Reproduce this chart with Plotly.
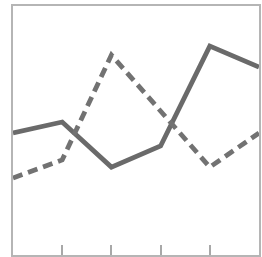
import plotly.graph_objects as go

x_vals = [0, 1, 2, 3, 4, 5]
solid_vals = [4.9, 5.34, 3.53, 4.38, 8.39, 7.55]
dashed_vals = [3.09, 3.82, 8.03, 5.78, 3.53, 4.9]
tick_positions = [1, 2, 3, 4]

fig = go.Figure()
fig.add_trace(go.Scatter(x=x_vals, y=solid_vals, mode="lines",
                         line=dict(color="#6a6a6a", width=4.8), showlegend=False))
fig.add_trace(go.Scatter(x=x_vals, y=dashed_vals, mode="lines",
                         line=dict(color="#727272", width=4.8, dash="10px,6px"), showlegend=False))

fig.update_layout(
    width=262, height=257,
    margin=dict(l=13, r=1, t=6, b=2),
    paper_bgcolor="white", plot_bgcolor="white",
    xaxis=dict(range=[0, 5], showgrid=False, zeroline=False, showline=True, mirror=True,
               linecolor="#b5b5b5", linewidth=2, ticks="inside", ticklen=10, tickwidth=2,
               tickcolor="#a8a8a8", tickvals=tick_positions, showticklabels=False),
    yaxis=dict(range=[0, 10], showgrid=False, zeroline=False, showline=True, mirror=True,
               linecolor="#b5b5b5", linewidth=2, ticks="", showticklabels=False),
)
fig.write_html("out.html", config={"displayModeBar": False},
               post_script="document.body.style.margin='0';document.body.style.overflow='hidden';")
